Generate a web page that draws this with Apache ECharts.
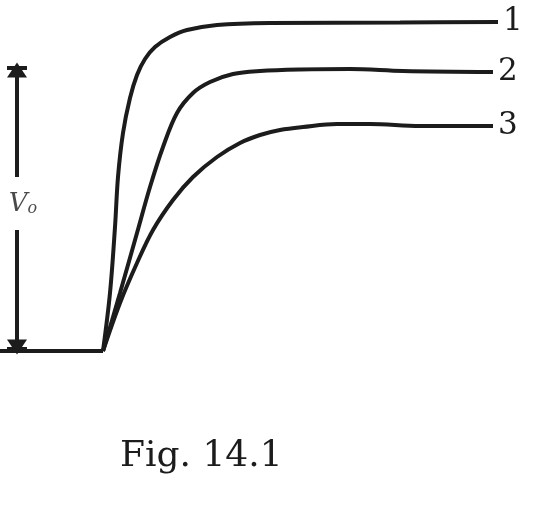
<!DOCTYPE html>
<html>
<head>
<meta charset="utf-8">
<script src="https://cdn.jsdelivr.net/npm/echarts@6/dist/echarts.min.js"></script>
<style>
  html, body { margin: 0; padding: 0; background: #fff; }
  #main { width: 540px; height: 520px; }
</style>
</head>
<body>
<div id="main"></div>
<script>
// curves (x, y in figure units, y grows downward)
const baseline = [[0, 351], [103, 351]];
const curve1 = [[103, 351], [110, 293], [115, 227], [118, 177], [123, 133], [130, 98], [137, 75], [145, 59], [155, 47], [170, 37], [187, 30], [217, 25], [270, 23], [400, 22.5], [498, 22]];
const curve2 = [[103, 351], [120, 293], [137, 233], [150, 187], [163, 147], [177, 113], [193, 93], [210, 82], [233, 74], [260, 71], [300, 69.5], [350, 69], [403, 71], [493, 72]];
const curve3 = [[103, 351], [120, 303], [137, 263], [153, 230], [173, 200], [193, 177], [217, 157], [240, 143], [260, 135], [280, 130], [303, 127], [337, 124], [370, 124], [420, 126], [493, 126]];
const curveNames = ['1', '2', '3'];

// V0 dimension arrow
const arrowX = 17;
const arrowTop = 68;
const arrowBottom = 351;
const gapTop = 177;
const gapBottom = 230;

const chart = echarts.init(document.getElementById('main'));
const ink = '#1c1c1c';
const serif = 'DejaVu Serif';

function curveSeries(name, data) {
  return {
    name: name,
    type: 'line',
    data: data,
    smooth: 0.35,
    showSymbol: false,
    lineStyle: { color: ink, width: 4 },
    endLabel: {
      show: true,
      formatter: '{a}',
      color: ink,
      fontFamily: serif,
      fontSize: 31,
      distance: 5
    },
    silent: true
  };
}

const option = {
  animation: false,
  backgroundColor: '#fff',
  title: {
    text: 'Fig. 14.1',
    left: 115,
    top: 434,
    textStyle: { color: ink, fontFamily: serif, fontSize: 36, fontWeight: 'normal' }
  },
  grid: { left: 0, right: 0, top: 0, bottom: 0 },
  xAxis: { type: 'value', min: 0, max: 540, show: false },
  yAxis: { type: 'value', min: 0, max: 520, inverse: true, show: false },
  series: [
    {
      type: 'line',
      data: baseline,
      showSymbol: false,
      lineStyle: { color: ink, width: 4 },
      silent: true,
      markLine: {
        silent: true,
        symbol: 'none',
        label: { show: false },
        lineStyle: { color: ink, width: 4, type: 'solid' },
        data: [
          [{ coord: [arrowX, gapTop], symbol: 'none' }, { coord: [arrowX, arrowTop + 2], symbol: 'triangle', symbolSize: [20, 15] }],
          [{ coord: [arrowX, gapBottom], symbol: 'none' }, { coord: [arrowX, arrowBottom - 4], symbol: 'triangle', symbolSize: [20, 15] }],
          [{ coord: [7, arrowTop] }, { coord: [27, arrowTop] }],
          [{ coord: [7, arrowBottom - 2] }, { coord: [27, arrowBottom - 2] }]
        ]
      }
    },
    curveSeries(curveNames[0], curve1),
    curveSeries(curveNames[1], curve2),
    curveSeries(curveNames[2], curve3),
    {
      type: 'scatter',
      data: [[arrowX + 6, 204]],
      symbolSize: 0,
      silent: true,
      label: {
        show: true,
        position: 'inside',
        color: ink,
        formatter: '{v|V}{s|o}',
        rich: {
          v: { fontFamily: serif, fontStyle: 'italic', fontSize: 26, color: ink },
          s: { fontFamily: serif, fontStyle: 'italic', fontSize: 16, color: ink, padding: [10, 0, 0, 0] }
        }
      }
    }
  ]
};

chart.setOption(option);
</script>
</body>
</html>
